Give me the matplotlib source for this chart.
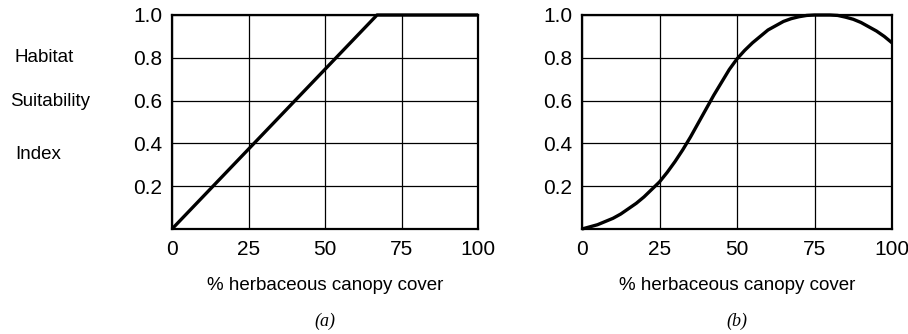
import matplotlib
matplotlib.use("Agg")
import matplotlib.pyplot as plt

plt.rcParams['font.family'] = ['Liberation Sans', 'DejaVu Sans']

# Data
cover_a = [0, 67, 100]
hsi_a = [0.0, 1.0, 1.0]

cover_b = [0, 2.5, 5, 7.5, 10, 12.5, 15, 17.5, 20, 22.5, 25, 27.5, 30, 32.5, 35, 37.5, 40,
           42.5, 45, 47.5, 50, 52.5, 55, 57.5, 60, 62.5, 65, 67.5, 70, 72.5, 75, 77.5, 80,
           82.5, 85, 87.5, 90, 92.5, 95, 97.5, 100]
hsi_b = [0.0, 0.01, 0.02, 0.035, 0.05, 0.07, 0.095, 0.12, 0.15, 0.185, 0.22, 0.265, 0.315,
         0.37, 0.43, 0.495, 0.56, 0.625, 0.685, 0.745, 0.795, 0.835, 0.87, 0.9, 0.93, 0.95,
         0.97, 0.983, 0.992, 0.998, 1.0, 1.0, 1.0, 0.998, 0.99, 0.98, 0.965, 0.945, 0.925,
         0.9, 0.87]

x_ticks = [0, 25, 50, 75, 100]
y_ticks = [0.2, 0.4, 0.6, 0.8, 1.0]
y_ticklabels = ["0.2", "0.4", "0.6", "0.8", "1.0"]
xlabel = "% herbaceous canopy cover"
panel_labels = ["(a)", "(b)"]

fig = plt.figure(figsize=(9.08, 3.34), dpi=100)
ax_a = fig.add_axes([172/908, 105/334, 306/908, 214/334])
ax_b = fig.add_axes([582/908, 105/334, 310/908, 214/334])

for ax, x, y, lab in [(ax_a, cover_a, hsi_a, panel_labels[0]), (ax_b, cover_b, hsi_b, panel_labels[1])]:
    ax.plot(x, y, color='black', lw=2.4, solid_capstyle='butt', solid_joinstyle='round',
            clip_on=False, zorder=3)
    ax.set_xlim(0, 100)
    ax.set_ylim(0, 1.0)
    ax.set_xticks(x_ticks)
    ax.set_yticks(y_ticks)
    ax.set_yticklabels(y_ticklabels)
    ax.tick_params(length=0, labelsize=15, pad=7)
    ax.tick_params(axis='x', pad=8)
    ax.grid(True, color='black', lw=0.9)
    for s in ax.spines.values():
        s.set_linewidth(1.6)
    ax.set_xlabel(xlabel, fontsize=13.5, labelpad=13)
    ax.text(0.5, -0.43, lab, transform=ax.transAxes, ha='center', va='center',
            fontsize=13, style='italic', family=['Liberation Serif', 'DejaVu Serif'])

fig.text(14/908, 1 - 58/334, "Habitat", fontsize=13.5, ha='left', va='center')
fig.text(10/908, 1 - 101/334, "Suitability", fontsize=13.5, ha='left', va='center')
fig.text(15/908, 1 - 155/334, "Index", fontsize=13.5, ha='left', va='center')

fig.savefig("out.png", dpi=100)
